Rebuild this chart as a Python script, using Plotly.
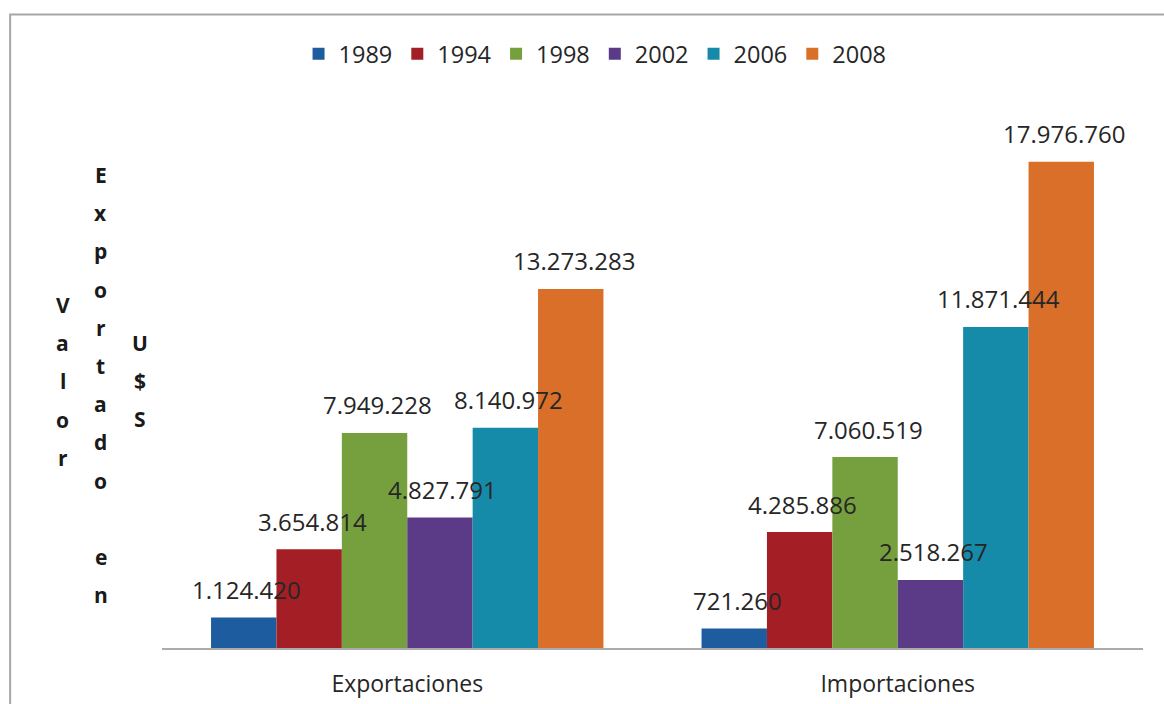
import plotly.graph_objects as go

categories = ["Exportaciones", "Importaciones"]
years = ["1989", "1994", "1998", "2002", "2006", "2008"]
v1989 = [1124420, 721260]
v1994 = [3654814, 4285886]
v1998 = [7949228, 7060519]
v2002 = [4827791, 2518267]
v2006 = [8140972, 11871444]
v2008 = [13273283, 17976760]
series = [v1989, v1994, v1998, v2002, v2006, v2008]
colors = ["#1D5C9F", "#A41F25", "#76A03E", "#5B3B88", "#168AA9", "#DA6F2A"]

ytitle_cols = ["Valor", "Exportado en", "U$S"]

FONT = "Open Sans"
TXT = "#262626"

# layout geometry (pixels)
W, H = 1164, 704
L, R, T, B = 161.5, 20.5, 107, 56
pw = W - L - R
ph = H - T - B

def px2x(px):
    return (px - L) / pw

def py2y(py):
    return (H - B - py) / ph

def fmt(v):
    return f"{v:,}".replace(",", ".")

fig = go.Figure()
for name, vals, col in zip(years, series, colors):
    fig.add_trace(go.Bar(
        x=categories, y=vals, name=name,
        marker=dict(color=col, line=dict(width=0)),
    ))

annotations = []
gw = 0.8
n = len(years)
for i, vals in enumerate(series):
    for ci, v in enumerate(vals):
        xc = ci - gw / 2 + (i + 0.5) * gw / n
        annotations.append(dict(
            x=xc, y=v, xref="x", yref="y", text=fmt(v), showarrow=False,
            yanchor="middle", yshift=28, xshift=3,
            font=dict(family=FONT, size=24, color=TXT),
        ))

# stacked vertical letters for the y-axis title
col_x = [62, 100, 139]
col_y0 = [305, 175, 343]
step = 38.2
for s, cx, cy in zip(ytitle_cols, col_x, col_y0):
    for k, ch in enumerate(s):
        if ch == " ":
            continue
        annotations.append(dict(
            x=px2x(cx), y=py2y(cy + k * step), xref="paper", yref="paper",
            text=ch, showarrow=False, xanchor="center", yanchor="middle",
            font=dict(family=FONT, size=21, color="#1a1a1a", weight="bold"),
        ))

fig.update_layout(
    width=W, height=H,
    margin=dict(l=L, r=R, t=T, b=B, autoexpand=False),
    paper_bgcolor="white", plot_bgcolor="white",
    barmode="group", bargap=0.2, bargroupgap=0,
    font=dict(family=FONT, color=TXT),
    showlegend=True,
    legend=dict(
        orientation="h", x=px2x(595), xanchor="center",
        y=py2y(54), yanchor="middle",
        font=dict(family=FONT, size=23.5, color=TXT),
        traceorder="normal",
    ),
    xaxis=dict(
        range=[-0.5, 1.5], showline=True, linecolor="#ABABAB", linewidth=1.5,
        ticks="outside", ticklen=15, tickcolor="rgba(0,0,0,0)",
        tickfont=dict(family=FONT, size=23, color=TXT),
        showgrid=False, zeroline=False,
    ),
    yaxis=dict(
        range=[0, 20000000], showticklabels=False, showgrid=False,
        zeroline=False, showline=False, ticks="",
    ),
    annotations=annotations,
    shapes=[dict(
        type="rect", xref="paper", yref="paper",
        x0=px2x(9.5), x1=px2x(1200), y0=py2y(14.5), y1=py2y(760),
        line=dict(color="#A6A6A6", width=2), layer="below",
    )],
)

fig.write_html("out.html")
